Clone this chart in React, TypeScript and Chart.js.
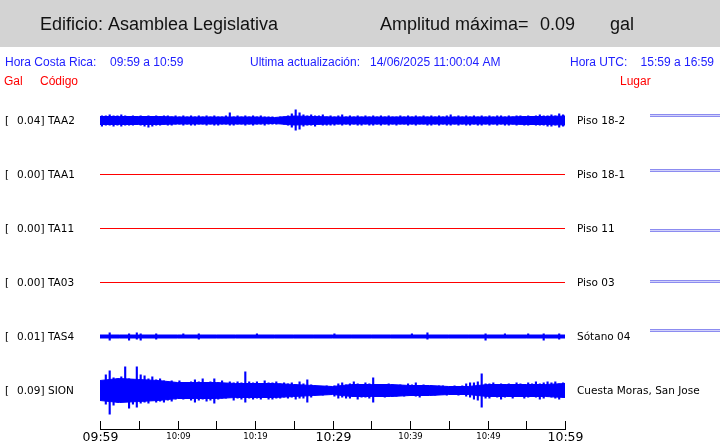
import React, { useEffect, useRef } from "react";
import { Chart, registerables } from "chart.js";

Chart.register(...registerables);

// ---------- texts ----------
const BUILDING = "Edificio: Asamblea Legislativa";
const AMP_LABEL = "Amplitud máxima=";
const MAX_AMPLITUDE = "0.09";
const AMP_UNIT = "gal";
const LOCAL_LABEL = "Hora Costa Rica:";
const LOCAL_RANGE = "09:59 a 10:59";
const UPDATED_LABEL = "Ultima actualización:";
const UPDATED = "14/06/2025 11:00:04 AM";
const UTC_LABEL = "Hora UTC:";
const UTC_RANGE = "15:59 a 16:59";

// ---------- channels ----------
const STATIONS = ["TAA2", "TAA1", "TA11", "TA03", "TAS4", "SION"];
const PLACES = ["Piso 18-2", "Piso 18-1", "Piso 11", "Piso 03", "Sótano 04", "Cuesta Moras, San Jose"];
const PEAK_GAL = ["0.04", "0.00", "0.00", "0.00", "0.01", "0.09"];

// ---------- time axis (minutes from 09:59) ----------
const TICK_MINUTES = [0, 5, 10, 15, 20, 25, 30, 35, 40, 45, 50, 55, 60];
const TICK_LABELS = ["09:59", "", "10:09", "", "10:19", "", "10:29", "", "10:39", "", "10:49", "", "10:59"];
const TICK_MAJOR = [true, false, false, false, false, false, true, false, false, false, false, false, true];
const BIN_MINUTES = 0.5;
const CORE_STEP_MINUTES = 2.5;

// ---------- waveform peaks, mGal: max (HI) and min (LO) in each 0.5 min bin ----------
const TAA2_HI = [
  20, 20, 24, 20, 20, 24, 20, 16, 20, 16, 20, 16,
  20, 16, 20, 16, 20, 20, 16, 20, 16, 20, 16, 20,
  16, 20, 16, 20, 16, 20, 16, 16, 20, 32, 16, 20,
  16, 20, 16, 20, 16, 20, 16, 16, 16, 12, 16, 16,
  20, 28, 44, 32, 24, 20, 24, 20, 20, 24, 16, 20,
  16, 20, 24, 16, 20, 16, 20, 16, 20, 16, 20, 16,
  20, 16, 20, 16, 16, 20, 16, 20, 16, 20, 16, 20,
  16, 20, 16, 20, 16, 20, 24, 16, 20, 16, 20, 16,
  20, 16, 20, 16, 20, 16, 20, 20, 16, 20, 16, 20,
  20, 16, 20, 16, 20, 24, 20, 20, 24, 20, 28, 24,
];
const TAA2_LO = [
  -24, -20, -20, -24, -20, -24, -20, -20, -20, -16, -20, -24,
  -28, -24, -20, -20, -16, -20, -20, -16, -16, -20, -16, -20,
  -20, -16, -16, -20, -16, -20, -20, -16, -16, -20, -20, -16,
  -16, -20, -16, -20, -16, -16, -20, -16, -16, -16, -12, -16,
  -20, -28, -40, -36, -24, -20, -20, -24, -16, -20, -20, -20,
  -20, -16, -20, -16, -20, -16, -20, -20, -16, -20, -20, -16,
  -20, -16, -20, -16, -20, -16, -16, -20, -16, -20, -16, -16,
  -20, -20, -16, -20, -16, -20, -20, -16, -20, -16, -20, -20,
  -16, -20, -20, -16, -20, -16, -20, -16, -20, -20, -16, -20,
  -16, -20, -20, -16, -20, -20, -20, -24, -24, -20, -28, -24,
];
const TAS4_HI = [
  6, 6, 16, 6, 6, 6, 6, 12, 6, 16, 12, 6,
  6, 6, 12, 6, 6, 6, 6, 6, 6, 12, 6, 6,
  6, 12, 6, 6, 6, 6, 6, 6, 6, 6, 6, 6,
  6, 6, 6, 6, 12, 6, 6, 6, 6, 6, 6, 6,
  6, 6, 6, 6, 6, 6, 6, 6, 6, 6, 6, 6,
  12, 6, 6, 6, 6, 6, 6, 6, 6, 6, 6, 6,
  6, 6, 6, 6, 6, 6, 6, 6, 12, 6, 6, 6,
  16, 6, 6, 6, 6, 6, 6, 6, 6, 6, 6, 6,
  6, 6, 6, 12, 6, 6, 6, 6, 12, 6, 6, 6,
  6, 6, 12, 6, 6, 6, 12, 6, 6, 6, 12, 6,
];
const TAS4_LO = [
  -6, -6, -16, -6, -6, -6, -6, -16, -6, -12, -16, -6,
  -6, -6, -12, -6, -6, -6, -6, -6, -6, -6, -6, -6,
  -6, -12, -6, -6, -6, -6, -6, -6, -6, -6, -6, -6,
  -6, -6, -6, -6, -6, -6, -6, -6, -6, -6, -6, -6,
  -6, -6, -6, -6, -6, -6, -6, -6, -6, -6, -6, -6,
  -6, -6, -6, -6, -6, -6, -6, -6, -6, -6, -6, -6,
  -6, -6, -6, -6, -6, -6, -6, -6, -6, -6, -6, -6,
  -12, -6, -6, -6, -6, -6, -6, -6, -6, -6, -6, -6,
  -6, -6, -6, -16, -6, -6, -6, -6, -6, -6, -6, -6,
  -6, -6, -6, -6, -6, -6, -16, -6, -6, -6, -12, -6,
];
const SION_HI = [
  28, 64, 80, 52, 48, 56, 96, 48, 44, 96, 64, 60,
  48, 56, 44, 48, 40, 36, 40, 32, 40, 28, 16, 36,
  44, 36, 48, 32, 36, 48, 32, 40, 28, 36, 32, 36,
  32, 76, 36, 32, 36, 28, 40, 32, 32, 36, 28, 32,
  28, 32, 24, 36, 28, 44, 24, 20, 16, 16, 20, 16,
  20, 28, 32, 24, 28, 36, 28, 24, 32, 28, 52, 24,
  24, 20, 28, 24, 20, 24, 20, 28, 24, 32, 20, 24,
  16, 20, 16, 20, 20, 16, 16, 20, 16, 20, 28, 32,
  32, 36, 68, 28, 28, 32, 24, 28, 24, 28, 24, 32,
  28, 24, 32, 28, 36, 28, 32, 36, 32, 36, 28, 32,
];
const SION_LO = [
  -28, -56, -96, -60, -48, -40, -44, -72, -56, -68, -52, -48,
  -52, -40, -48, -44, -48, -40, -44, -36, -32, -36, -16, -40,
  -48, -40, -36, -44, -40, -52, -36, -32, -32, -28, -40, -32,
  -36, -48, -32, -36, -32, -36, -28, -36, -36, -32, -32, -28,
  -32, -28, -36, -32, -32, -48, -28, -20, -16, -20, -16, -16,
  -24, -32, -28, -32, -32, -24, -36, -28, -28, -32, -48, -24,
  -24, -28, -20, -24, -24, -20, -24, -20, -20, -24, -28, -20,
  -16, -16, -20, -16, -16, -20, -16, -16, -20, -16, -24, -28,
  -36, -40, -68, -32, -32, -24, -28, -36, -28, -24, -32, -24,
  -24, -32, -28, -24, -28, -36, -32, -24, -28, -32, -36, -28,
];
// typical (solid core) amplitude, mGal, every 2.5 min from 09:59 to 10:59
const TAA2_CORE = [16, 16, 16, 16, 14, 14, 14, 14, 14, 12, 18, 16, 14, 14, 14, 14, 14, 14, 14, 14, 14, 14, 16, 16, 18];
const TAS4_CORE = [6, 6, 6, 6, 6, 6, 6, 6, 6, 6, 6, 6, 6, 6, 6, 6, 6, 6, 6, 6, 6, 6, 6, 6, 6];
const SION_CORE = [40, 48, 44, 40, 32, 32, 32, 28, 28, 28, 24, 20, 16, 24, 24, 24, 20, 20, 16, 16, 24, 24, 24, 24, 28];

// silent channels: a flat trace from start to end of the hour
const SILENT_TIMES = [0, 60];
const SILENT_MGAL = [0, 0];

const WAVE_HI: Record<string, number[]> = { TAA2: TAA2_HI, TAS4: TAS4_HI, SION: SION_HI };
const WAVE_LO: Record<string, number[]> = { TAA2: TAA2_LO, TAS4: TAS4_LO, SION: SION_LO };
const WAVE_CORE: Record<string, number[]> = { TAA2: TAA2_CORE, TAS4: TAS4_CORE, SION: SION_CORE };

// ---------- layout / style ----------
const W = 720;
const H = 443;
const ROW_GAP = 216; // mGal between trace baselines
const Y_MAX = 110;
const Y_MIN = -1234;
const HEADER_H = 47;
const BLUE = "#0000ff";
const RED = "#ff0000";
const TEXT_BLUE = "#2020ff";
const SANS = "'Liberation Sans', Arial, sans-serif";
const DEJAVU = "'DejaVu Sans', sans-serif";
const SIDE_MARK_OFFSETS = [-6, -5, 1, -2, -7];

const framePlugin = {
  id: "frame",
  beforeDraw(chart: any) {
    const ctx = chart.ctx as CanvasRenderingContext2D;
    ctx.save();
    ctx.fillStyle = "#ffffff";
    ctx.fillRect(0, 0, W, H);
    ctx.fillStyle = "#d3d3d3";
    ctx.fillRect(0, 0, W, HEADER_H);

    ctx.textBaseline = "alphabetic";
    ctx.textAlign = "left";
    ctx.fillStyle = "#111111";
    ctx.font = `18px ${SANS}`;
    ctx.fillText(BUILDING, 40, 30);
    ctx.fillText(AMP_LABEL, 380, 30);
    ctx.fillText(MAX_AMPLITUDE, 540, 30);
    ctx.fillText(AMP_UNIT, 610, 30);

    ctx.font = `12px ${SANS}`;
    ctx.fillStyle = TEXT_BLUE;
    ctx.fillText(LOCAL_LABEL, 5, 66);
    ctx.fillText(LOCAL_RANGE, 110, 66);
    ctx.fillText(UPDATED_LABEL, 250, 66);
    ctx.fillText(UPDATED, 370, 66);
    ctx.fillText(UTC_LABEL, 570, 66);
    ctx.textAlign = "right";
    ctx.fillText(UTC_RANGE, 714, 66);
    ctx.textAlign = "left";

    ctx.fillStyle = RED;
    ctx.fillText("Gal", 4, 85);
    ctx.fillText("Código", 40, 85);
    ctx.fillText("Lugar", 620, 85);

    const ys = chart.scales.y;
    ctx.font = `10.5px ${DEJAVU}`;
    ctx.fillStyle = "#000000";
    STATIONS.forEach((s, k) => {
      const cy = Math.floor(ys.getPixelForValue(-k * ROW_GAP));
      ctx.fillText("[", 5, cy + 4);
      ctx.fillText(PEAK_GAL[k] + "]", 17, cy + 4);
      ctx.fillText(s, 48, cy + 4);
      ctx.fillText(PLACES[k], 577, cy + 4);
      if (k < SIDE_MARK_OFFSETS.length) {
        const y0 = cy + SIDE_MARK_OFFSETS[k];
        ctx.fillStyle = "#8c8cf0";
        ctx.fillRect(650, y0, 70, 1);
        ctx.fillRect(650, y0 + 2, 70, 1);
        ctx.fillStyle = "#d2d2fa";
        ctx.fillRect(650, y0 + 1, 70, 1);
        ctx.fillStyle = "#000000";
      }
    });
    ctx.restore();
  },
  afterDraw(chart: any) {
    const ctx = chart.ctx as CanvasRenderingContext2D;
    const xs = chart.scales.x;
    const area = chart.chartArea;
    const axisY = Math.round(area.bottom);
    ctx.save();
    ctx.strokeStyle = "#000000";
    ctx.lineWidth = 1;
    ctx.beginPath();
    ctx.moveTo(Math.round(xs.getPixelForValue(0)), axisY + 0.5);
    ctx.lineTo(Math.round(xs.getPixelForValue(60)) + 1, axisY + 0.5);
    ctx.stroke();
    ctx.fillStyle = "#000000";
    ctx.textAlign = "center";
    ctx.textBaseline = "alphabetic";
    TICK_MINUTES.forEach((m, i) => {
      const px = Math.round(xs.getPixelForValue(m)) + 0.5;
      ctx.beginPath();
      ctx.moveTo(px, axisY - 8);
      ctx.lineTo(px, axisY + 0.5);
      ctx.stroke();
      const label = TICK_LABELS[i];
      if (label) {
        if (TICK_MAJOR[i]) {
          ctx.font = `12.5px ${DEJAVU}`;
          ctx.fillText(label, px, 441);
        } else {
          ctx.font = `8.5px ${DEJAVU}`;
          ctx.fillText(label, px, 439);
        }
      }
    });
    ctx.restore();
  },
};

export default function App() {
  const ref = useRef<HTMLCanvasElement | null>(null);

  useEffect(() => {
    document.body.style.margin = "0";
    const canvas = ref.current;
    if (!canvas) return;

    const datasets: any[] = [];
    STATIONS.forEach((s, k) => {
      const off = -k * ROW_GAP;
      const hi = WAVE_HI[s];
      const lo = WAVE_LO[s];
      const core = WAVE_CORE[s];
      if (hi && lo && core) {
        // solid core band: +core filled down to -core
        datasets.push({
          type: "line",
          label: s + " core+",
          data: core.map((c, i) => ({ x: i * CORE_STEP_MINUTES, y: c + off })),
          borderColor: BLUE,
          backgroundColor: BLUE,
          borderWidth: 1,
          pointRadius: 0,
          tension: 0,
          fill: "+1",
        });
        datasets.push({
          type: "line",
          label: s + " core-",
          data: core.map((c, i) => ({ x: i * CORE_STEP_MINUTES, y: -c + off })),
          borderColor: BLUE,
          backgroundColor: BLUE,
          borderWidth: 1,
          pointRadius: 0,
          tension: 0,
          fill: false,
        });
        // thin min-max spikes for each 0.5 min bin
        datasets.push({
          type: "bar",
          label: s + " peaks",
          data: hi.map((h, i) => ({ x: (i + 0.5) * BIN_MINUTES, y: [lo[i] + off, h + off] })),
          backgroundColor: BLUE,
          borderWidth: 0,
          grouped: false,
          categoryPercentage: 1,
          barPercentage: 0.55,
          inflateAmount: 0,
        });
      } else {
        datasets.push({
          type: "line",
          label: s,
          data: SILENT_TIMES.map((t, i) => ({ x: t, y: SILENT_MGAL[i] + off })),
          borderColor: RED,
          borderWidth: 1,
          pointRadius: 0,
          fill: false,
        });
      }
    });

    const chart = new Chart(canvas, {
      type: "line",
      data: { datasets },
      options: {
        responsive: false,
        animation: false,
        devicePixelRatio: 1,
        layout: { padding: { left: 100, right: W - 565, top: 93, bottom: H - 429 } },
        plugins: { legend: { display: false }, tooltip: { enabled: false }, filler: { propagate: false } },
        scales: {
          x: { type: "linear", min: 0, max: 60, offset: false, display: false, ticks: { stepSize: 5 } },
          y: { type: "linear", min: Y_MIN, max: Y_MAX, display: false },
        },
      },
      plugins: [framePlugin],
    } as any);

    return () => chart.destroy();
  }, []);

  return (
    <div style={{ width: W, height: H }}>
      <canvas ref={ref} width={W} height={H} style={{ display: "block" }} />
    </div>
  );
}
